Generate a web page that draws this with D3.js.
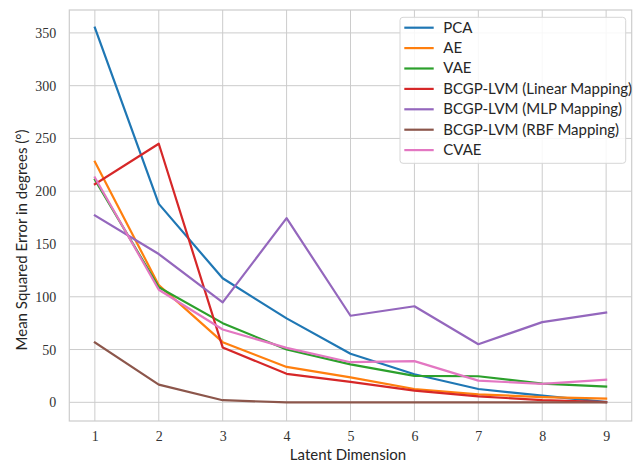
<!DOCTYPE html>
<html>
<head>
<meta charset="utf-8">
<script src="https://cdn.jsdelivr.net/npm/d3@7/dist/d3.min.js"></script>
<style>
  html, body { margin: 0; padding: 0; background: #fff; }
  svg { display: block; }
</style>
</head>
<body>
<div id="chart"></div>
<script>
// datos
const dims = [1, 2, 3, 4, 5, 6, 7, 8, 9];
const seriesNames = [
  'PCA', 'AE', 'VAE',
  'BCGP-LVM (Linear Mapping)', 'BCGP-LVM (MLP Mapping)', 'BCGP-LVM (RBF Mapping)',
  'CVAE'
];
const pcaVals    = [355, 188, 117.5, 79.5, 46, 26.6, 12.6, 6.3, 0.3];
const aeVals     = [228, 111, 57, 33.5, 23.7, 12.6, 7.6, 5, 3.5];
const vaeVals    = [211, 109, 75, 50, 36, 25, 24.7, 17.7, 15];
const linearVals = [206.7, 245, 52, 27, 19.3, 11, 5.7, 2, 0.3];
const mlpVals    = [177, 140.5, 94.7, 174.5, 82, 91, 55, 76, 85];
const rbfVals    = [56.7, 16.8, 2, 0, 0, 0, 0, 0, 0];
const cvaeVals   = [213, 106.7, 69, 51.6, 38, 39, 20.6, 17.4, 21.5];
const allVals = [pcaVals, aeVals, vaeVals, linearVals, mlpVals, rbfVals, cvaeVals];
const colors = ['#1f77b4', '#ff7f0e', '#2ca02c', '#d62728', '#9467bd', '#8c564b', '#e377c2'];
const yTicks = [0, 50, 100, 150, 200, 250, 300, 350];

const W = 633, H = 465;
const margin = { top: 10, right: 1.3, bottom: 44, left: 69.3 };
const width = W - margin.left - margin.right;
const height = H - margin.top - margin.bottom;

const svg = d3.select('#chart').append('svg')
  .attr('width', W).attr('height', H);

const g = svg.append('g')
  .attr('transform', `translate(${margin.left},${margin.top})`);

// escalas (márgenes de 5% como matplotlib)
const x = d3.scaleLinear().domain([0.6, 9.4]).range([0, width]);
const y = d3.scaleLinear().domain([-17.7, 371.7]).range([height, 0]);

const serifFont = "'Liberation Serif', 'DejaVu Serif', serif";
const sansFont = "Lato, 'Open Sans', sans-serif";

// rejilla
g.append('g').selectAll('line')
  .data(dims).join('line')
    .attr('x1', d => x(d)).attr('x2', d => x(d))
    .attr('y1', 0).attr('y2', height)
    .attr('stroke', '#cccccc').attr('stroke-width', 1);
g.append('g').selectAll('line')
  .data(yTicks).join('line')
    .attr('x1', 0).attr('x2', width)
    .attr('y1', d => y(d)).attr('y2', d => y(d))
    .attr('stroke', '#cccccc').attr('stroke-width', 1);

// marco
g.append('rect')
  .attr('x', 0).attr('y', 0).attr('width', width).attr('height', height)
  .attr('fill', 'none').attr('stroke', '#cccccc').attr('stroke-width', 1.2);

// ejes (solo etiquetas)
const xAxis = g.append('g')
  .attr('transform', `translate(0,${height})`)
  .call(d3.axisBottom(x).tickValues(dims).tickSize(0).tickPadding(10).tickFormat(d3.format('d')));
const yAxis = g.append('g')
  .call(d3.axisLeft(y).tickValues(yTicks).tickSize(0).tickPadding(13));
[xAxis, yAxis].forEach(a => {
  a.select('.domain').remove();
  a.selectAll('text')
    .attr('font-family', serifFont)
    .attr('font-size', 14)
    .attr('fill', '#333');
});

// títulos de ejes
svg.append('text')
  .attr('x', 348).attr('y', 460)
  .attr('text-anchor', 'middle')
  .attr('font-family', sansFont).attr('font-size', 15)
  .attr('fill', '#262626')
  .text('Latent Dimension');

svg.append('text')
  .attr('transform', 'translate(27,240) rotate(-90)')
  .attr('text-anchor', 'middle')
  .attr('font-family', sansFont).attr('font-size', 15)
  .attr('fill', '#262626')
  .text('Mean Squared Error in degrees (°)');

// líneas
const line = d3.line()
  .x((d, i) => x(dims[i]))
  .y(d => y(d));

g.append('g').selectAll('path')
  .data(allVals).join('path')
    .attr('d', d => line(d))
    .attr('fill', 'none')
    .attr('stroke', (d, i) => colors[i])
    .attr('stroke-width', 2.2)
    .attr('stroke-linejoin', 'round')
    .attr('stroke-linecap', 'square');

// leyenda
const legend = svg.append('g').attr('transform', 'translate(400,17.3)');
legend.append('rect')
  .attr('x', 0).attr('y', 0).attr('width', 225.7).attr('height', 146)
  .attr('rx', 3)
  .attr('fill', 'rgba(255,255,255,0.85)')
  .attr('stroke', '#d6d6d6').attr('stroke-width', 1);

seriesNames.forEach((name, i) => {
  const yy = 10.4 + i * 20.4;
  legend.append('line')
    .attr('x1', 4.3).attr('x2', 33.7)
    .attr('y1', yy).attr('y2', yy)
    .attr('stroke', colors[i]).attr('stroke-width', 2.2);
  legend.append('text')
    .attr('x', 43.3).attr('y', yy + 5)
    .attr('font-family', sansFont).attr('font-size', 15)
    .attr('fill', '#262626')
    .text(name);
});
</script>
</body>
</html>
